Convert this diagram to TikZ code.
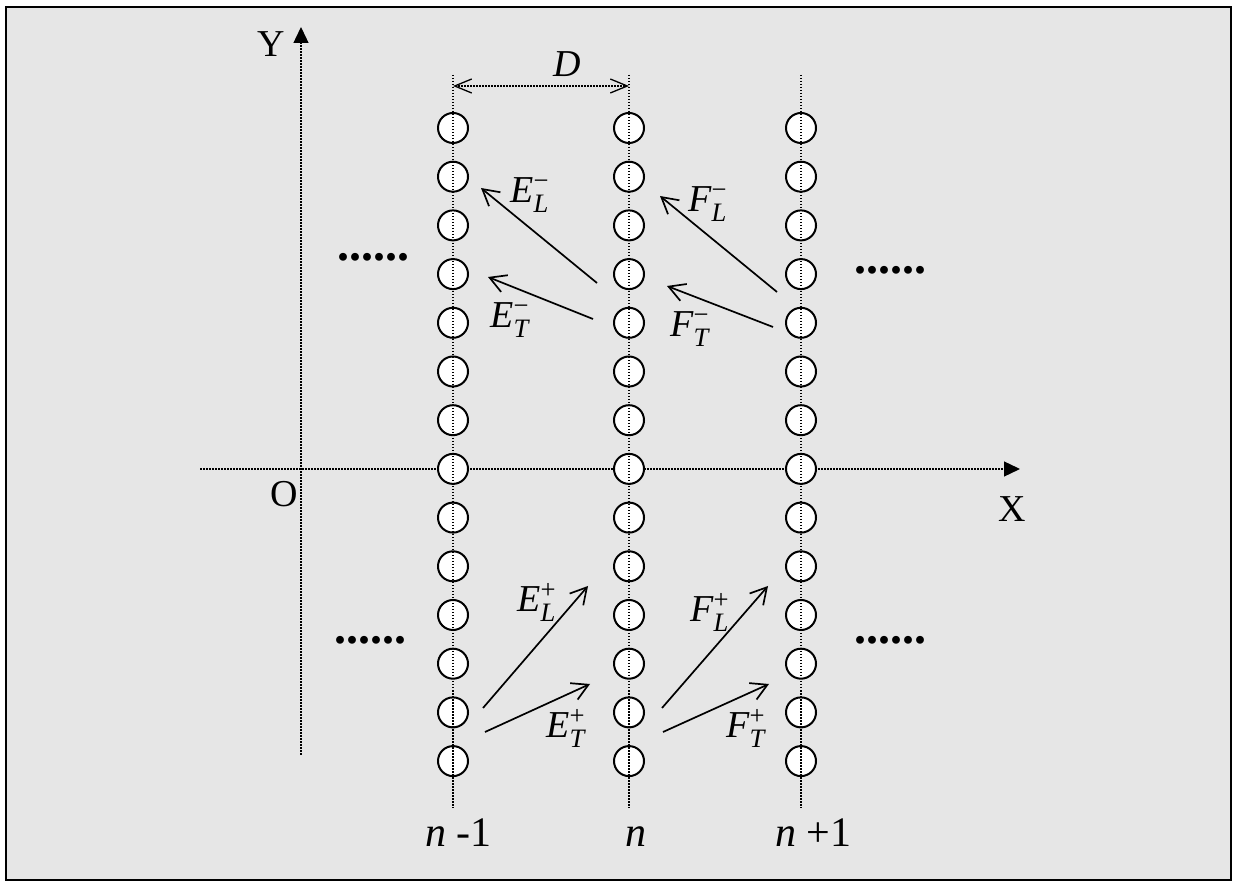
\documentclass[tikz,border=0pt]{standalone}
\usepackage{amsmath}
\usepackage{fontspec}
\setmainfont{Liberation Serif}
\usetikzlibrary{arrows.meta}
\definecolor{panel}{HTML}{E6E6E6}
\newcommand{\wv}[3]{$\textit{#1}^{\text{#3}}_{\textit{#2}}$}

\begin{document}
\begin{tikzpicture}[x=0.5pt,y=-0.5pt,
  every node/.style={font=\fontsize{19}{22}\selectfont,inner sep=0pt},
  atom/.style={circle,draw,fill=white,line width=1pt,minimum size=15pt,inner sep=0pt},
  guide/.style={line width=0.65pt,dash pattern=on 0.75pt off 0.75pt},
  axis/.style={guide,-{Triangle[length=8pt,width=7.5pt]}},
  wave/.style={-{Straight Barb[length=8pt,width=9pt]},line width=0.85pt},
  lbl/.style={anchor=base west},
  idx/.style={lbl,font=\fontsize{21}{24}\selectfont},
  more/.style={font=\fontsize{24}{28}\selectfont\bfseries}]
  \useasboundingbox (0,0) rectangle (1237,886);
  \fill[white] (0,0) rectangle (1237,886);
  \draw[line width=1.3pt,fill=panel] (6,7) rectangle (1231,880);
  % axes
  \coordinate (yb) at (301,755);
  \coordinate (yt) at (301,27);
  \coordinate (xl) at (200,469);
  \coordinate (xr) at (1020,469);
  \draw[axis] (yb) -- (yt);
  \draw[axis] (xl) -- (xr);
  \node[lbl] (ylab) at (257,57) {Y};
  \node[lbl] (xlab) at (998,522) {X};
  \node[lbl] (olab) at (270,507) {O};
  % three columns of scatterers
  \foreach \c/\cx in {a/453,b/629,c/801}{
    \foreach \k in {0,...,13}
      \node[atom] (\c\k) at (\cx,{128+48.7*\k}) {};
    \coordinate (\c top) at (\cx,75);
    \coordinate (\c bot) at (\cx,808);
    \draw[guide] (\c top) -- (\c bot);
  }
  % period D
  \coordinate (dl) at (453,86);
  \coordinate (dr) at (629,86);
  \draw[guide,{Straight Barb[length=8.5pt,width=7pt]}-{Straight Barb[length=8.5pt,width=7pt]}] (dl) -- (dr);
  \node[font=\fontsize{19}{22}\selectfont\itshape] (dlab) at (567,64) {D};
  % backward waves
  \coordinate (eLs) at (597,283); \coordinate (eLe) at (481,188);
  \coordinate (eTs) at (593,319); \coordinate (eTe) at (488,277);
  \coordinate (fLs) at (777,292); \coordinate (fLe) at (660,196);
  \coordinate (fTs) at (773,327); \coordinate (fTe) at (667,286);
  \draw[wave] (eLs) -- (eLe);
  \draw[wave] (eTs) -- (eTe);
  \draw[wave] (fLs) -- (fLe);
  \draw[wave] (fTs) -- (fTe);
  \node[lbl] (eLm) at (510,203) {\wv{E}{L}{−}};
  \node[lbl] (eTm) at (490,328) {\wv{E}{T}{−}};
  \node[lbl] (fLm) at (688,212) {\wv{F}{L}{−}};
  \node[lbl] (fTm) at (670,337) {\wv{F}{T}{−}};
  % forward waves
  \coordinate (eLps) at (483,708); \coordinate (eLpe) at (588,586);
  \coordinate (eTps) at (485,732); \coordinate (eTpe) at (590,684);
  \coordinate (fLps) at (662,708); \coordinate (fLpe) at (768,586);
  \coordinate (fTps) at (663,732); \coordinate (fTpe) at (769,684);
  \draw[wave] (eLps) -- (eLpe);
  \draw[wave] (eTps) -- (eTpe);
  \draw[wave] (fLps) -- (fLpe);
  \draw[wave] (fTps) -- (fTpe);
  \node[lbl] (eLp) at (517,612) {\wv{E}{L}{+}};
  \node[lbl] (eTp) at (546,738) {\wv{E}{T}{+}};
  \node[lbl] (fLp) at (690,622) {\wv{F}{L}{+}};
  \node[lbl] (fTp) at (726,738) {\wv{F}{T}{+}};
  % continuation dots
  \node[more] (mul) at (373,257) {......};
  \node[more] (mur) at (890,270) {......};
  \node[more] (mdl) at (370,640) {......};
  \node[more] (mdr) at (890,640) {......};
  % column indices
  \node[idx] (na) at (425,847) {\textit{n} -1};
  \node[idx] (nb) at (625,847) {\textit{n}};
  \node[idx] (nc) at (775,847) {\textit{n} +1};
\end{tikzpicture}
\end{document}
